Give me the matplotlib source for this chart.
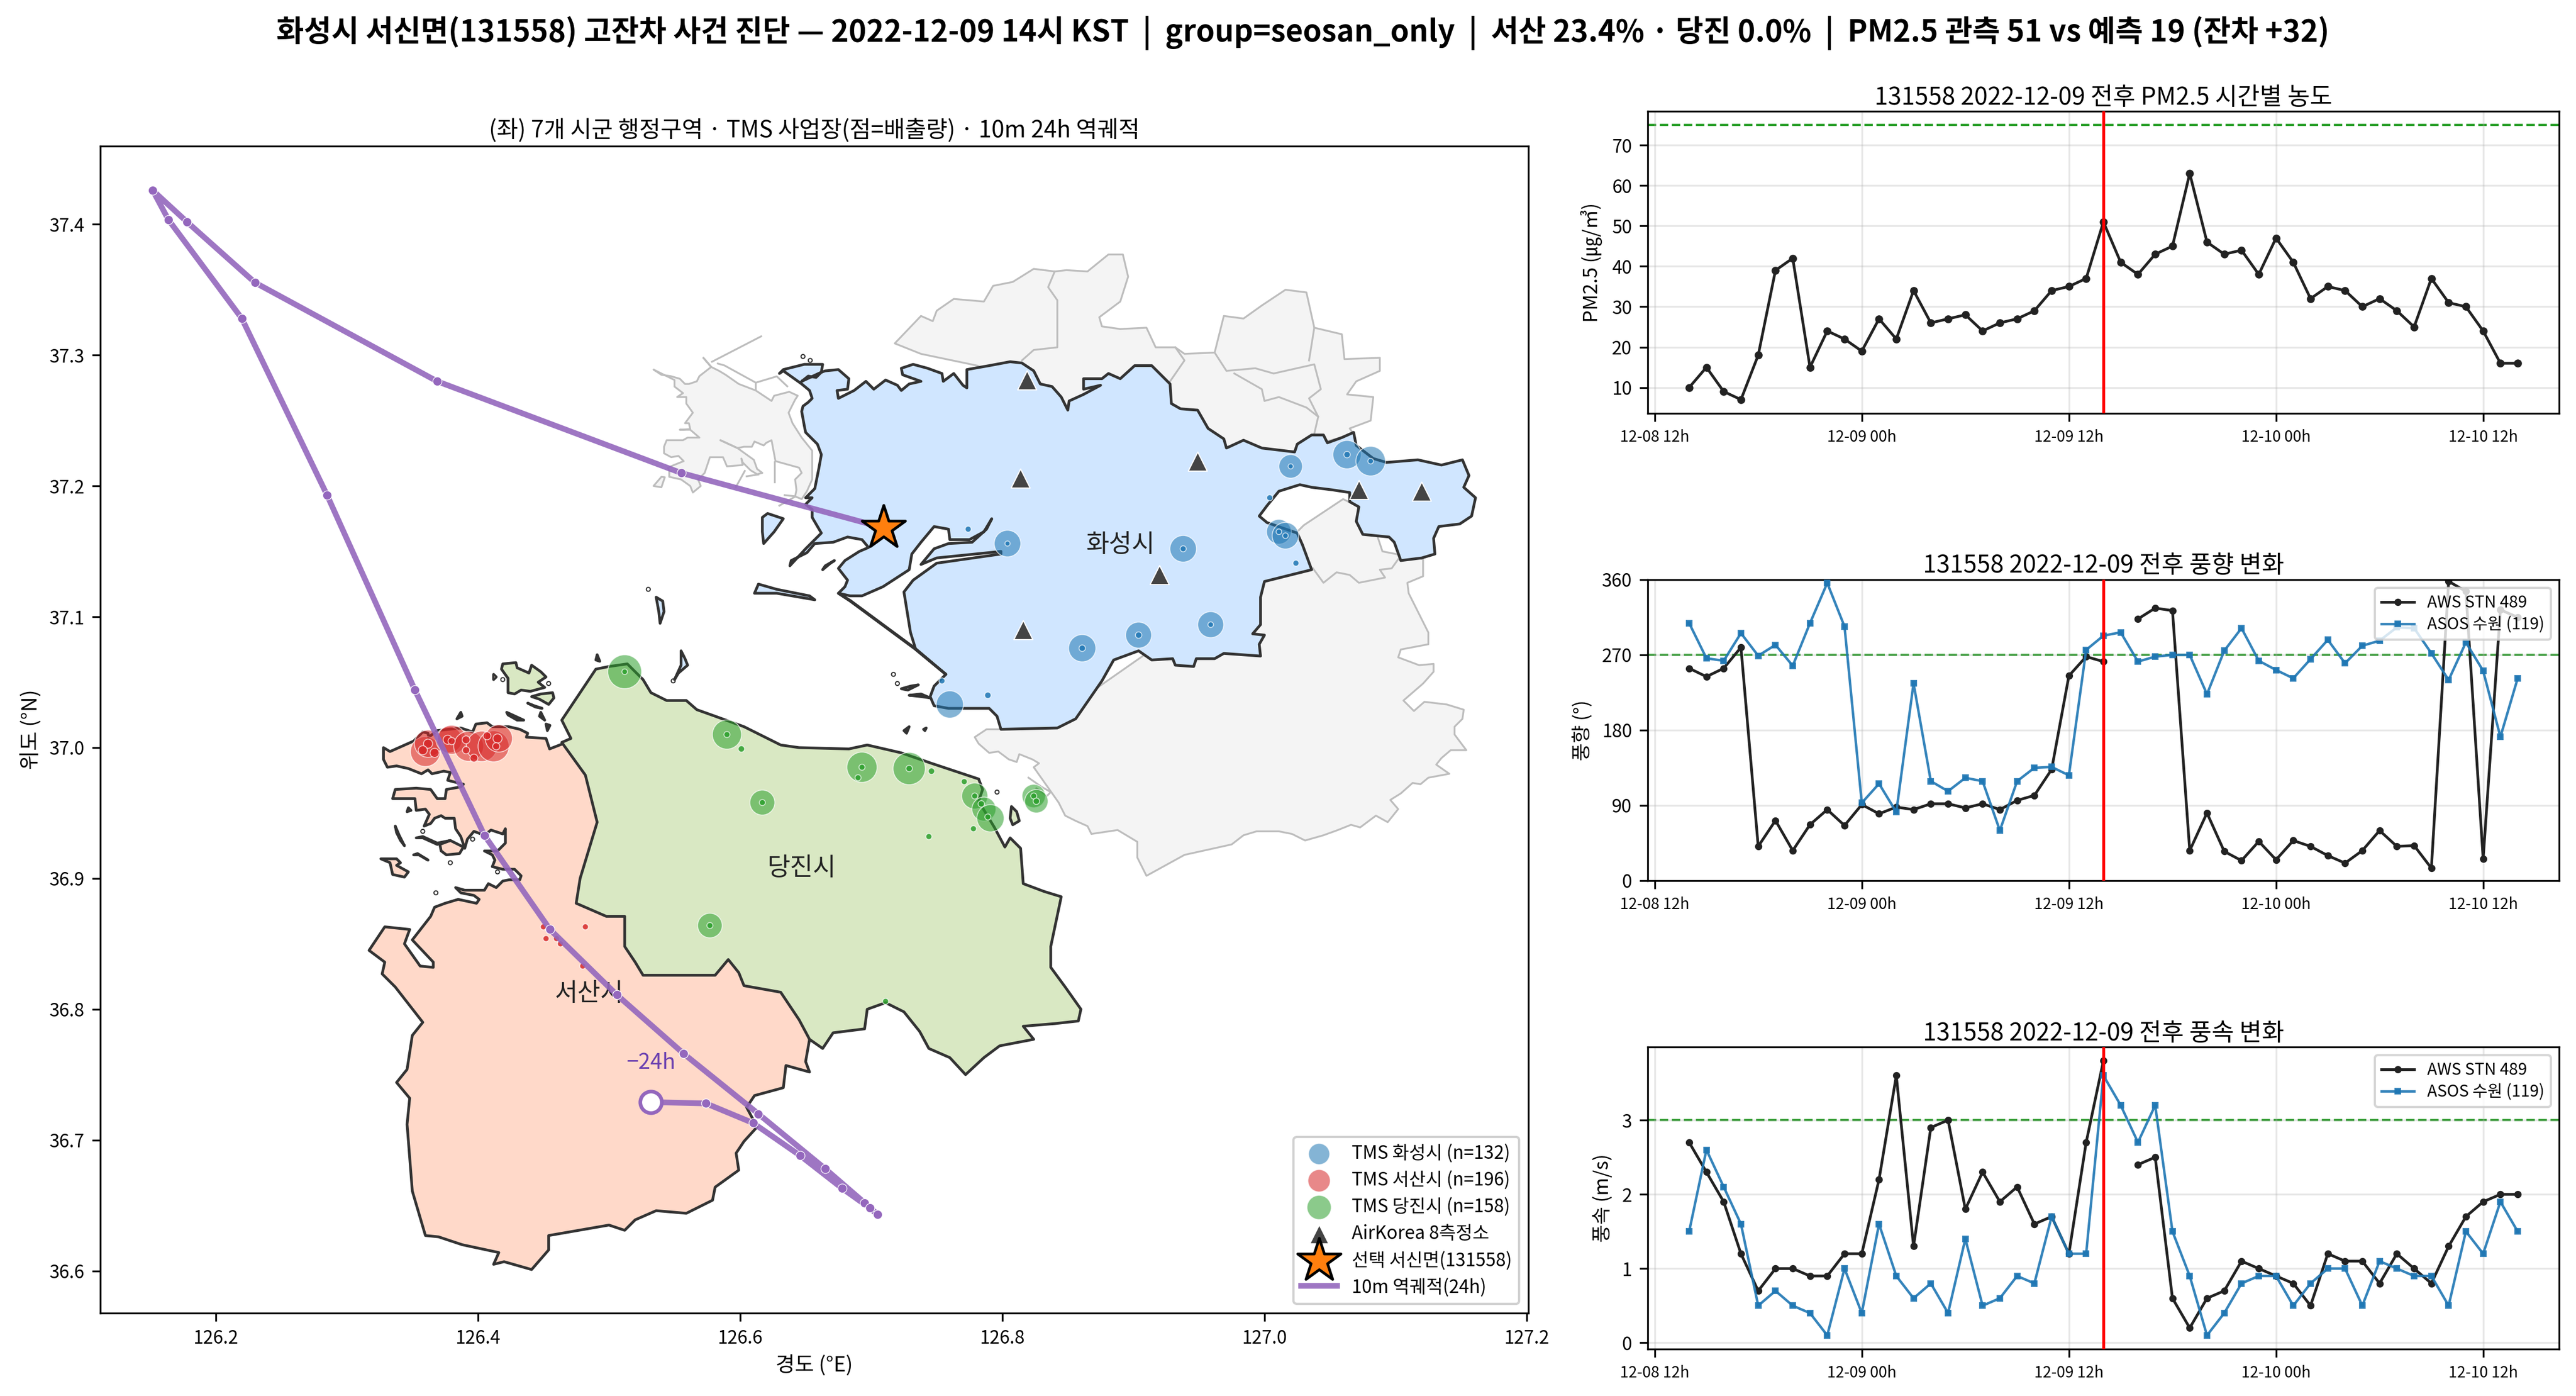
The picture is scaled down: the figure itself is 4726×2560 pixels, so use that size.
import numpy as np
import pandas as pd
import matplotlib

matplotlib.use("Agg")
import matplotlib.pyplot as plt
import matplotlib.dates as mdates
from matplotlib.colors import to_rgba

plt.rcParams["font.family"] = ["Noto Sans CJK KR", "DejaVu Sans"]
plt.rcParams["axes.unicode_minus"] = False

# Hourly series, 12-08 14h to 12-10 14h
START_TIME = "2022-12-08 14:00"
EVENT_TIME = "2022-12-09 14:00"
PM25 = [10, 15, 9, 7, 18, 39, 42, 15, 24, 22, 19, 27, 22, 34, 26, 27, 28, 24, 26, 27, 29, 34, 35, 37, 51,
        41, 38, 43, 45, 63, 46, 43, 44, 38, 47, 41, 32, 35, 34, 30, 32, 29, 25, 37, 31, 30, 24, 16, 16]
WD_AWS = [254, 244, 254, 279, 41, 72, 36, 67, 85, 66, 91, 80, 88, 85, 92, 92, 87, 92, 85, 96, 102, 133, 245, 268, 262,
          np.nan, 313, 326, 323, 36, 81, 35, 24, 47, 25, 48, 41, 30, 21, 36, 60, 41, 42, 15, 358, 346, 26, 324, 315]
WD_ASOS = [308, 266, 263, 296, 269, 282, 257, 308, 356, 304, 93, 116, 82, 236, 119, 107, 123, 119, 60, 119, 135, 136, 126, 276, 293,
           297, 262, 268, 270, 270, 223, 275, 302, 263, 252, 242, 265, 288, 260, 281, 287, 303, 302, 272, 240, 285, 251, 172, 242]
WS_AWS = [2.7, 2.3, 1.9, 1.2, 0.7, 1.0, 1.0, 0.9, 0.9, 1.2, 1.2, 2.2, 3.6, 1.3, 2.9, 3.0, 1.8, 2.3, 1.9, 2.1, 1.6, 1.7, 1.2, 2.7, 3.8,
          np.nan, 2.4, 2.5, 0.6, 0.2, 0.6, 0.7, 1.1, 1.0, 0.9, 0.8, 0.5, 1.2, 1.1, 1.1, 0.8, 1.2, 1.0, 0.8, 1.3, 1.7, 1.9, 2.0, 2.0]
WS_ASOS = [1.5, 2.6, 2.1, 1.6, 0.5, 0.7, 0.5, 0.4, 0.1, 1.0, 0.4, 1.6, 0.9, 0.6, 0.8, 0.4, 1.4, 0.5, 0.6, 0.9, 0.8, 1.7, 1.2, 1.2, 3.6,
           3.2, 2.7, 3.2, 1.5, 0.9, 0.1, 0.4, 0.8, 0.9, 0.9, 0.5, 0.8, 1.0, 1.0, 0.5, 1.1, 1.0, 0.9, 0.9, 0.5, 1.5, 1.2, 1.9, 1.5]

HWASEONG = [
    (126.647, 37.280), (126.652, 37.284), (126.658, 37.283), (126.662, 37.287), (126.663, 37.293), (126.649, 37.293),
    (126.633, 37.289), (126.630, 37.286), (126.633, 37.288), (126.647, 37.278), (126.653, 37.273), (126.655, 37.267),
    (126.652, 37.264), (126.648, 37.261), (126.647, 37.257), (126.649, 37.246), (126.650, 37.241), (126.659, 37.232),
    (126.662, 37.224), (126.660, 37.213), (126.657, 37.198), (126.650, 37.191), (126.655, 37.191), (126.650, 37.186),
    (126.655, 37.182), (126.655, 37.176), (126.662, 37.164), (126.650, 37.152), (126.638, 37.139), (126.639, 37.143),
    (126.651, 37.149), (126.657, 37.156), (126.671, 37.157), (126.682, 37.161), (126.693, 37.159), (126.698, 37.153),
    (126.691, 37.150), (126.680, 37.143), (126.675, 37.137), (126.682, 37.128), (126.680, 37.123), (126.675, 37.118),
    (126.684, 37.116), (126.693, 37.116), (126.709, 37.123), (126.729, 37.136), (126.731, 37.148), (126.738, 37.157),
    (126.748, 37.169), (126.759, 37.167), (126.760, 37.159), (126.775, 37.159), (126.786, 37.165), (126.792, 37.175),
    (126.788, 37.167), (126.777, 37.157), (126.759, 37.156), (126.748, 37.152), (126.738, 37.140), (126.750, 37.145),
    (126.799, 37.150), (126.799, 37.148), (126.750, 37.141), (126.732, 37.128), (126.725, 37.119), (126.730, 37.088),
    (126.734, 37.075), (126.757, 37.056), (126.748, 37.047), (126.745, 37.039), (126.748, 37.032), (126.759, 37.030),
    (126.790, 37.030), (126.796, 37.024), (126.799, 37.014), (126.842, 37.015), (126.856, 37.022), (126.876, 37.051),
    (126.885, 37.067), (126.904, 37.074), (126.914, 37.067), (126.930, 37.068), (126.932, 37.063), (126.946, 37.062),
    (126.948, 37.068), (126.962, 37.068), (126.969, 37.072), (126.997, 37.070), (126.996, 37.079), (127.000, 37.086),
    (126.991, 37.087), (126.997, 37.094), (126.997, 37.115), (127.000, 37.127), (127.020, 37.132), (127.036, 37.136),
    (127.029, 37.155), (127.025, 37.164), (127.002, 37.172), (126.996, 37.177), (127.002, 37.185), (127.011, 37.196),
    (127.027, 37.201), (127.036, 37.199), (127.052, 37.197), (127.065, 37.195), (127.065, 37.188), (127.072, 37.184),
    (127.070, 37.173), (127.075, 37.163), (127.095, 37.161), (127.099, 37.157), (127.104, 37.143), (127.120, 37.145),
    (127.130, 37.148), (127.129, 37.160), (127.133, 37.169), (127.149, 37.171), (127.158, 37.177), (127.161, 37.191),
    (127.152, 37.199), (127.156, 37.208), (127.151, 37.220), (127.135, 37.216), (127.117, 37.220), (127.093, 37.218),
    (127.083, 37.221), (127.070, 37.231), (127.068, 37.241), (127.059, 37.237), (127.048, 37.233), (127.045, 37.239),
    (127.036, 37.239), (127.025, 37.232), (127.023, 37.226), (126.998, 37.229), (126.984, 37.235), (126.971, 37.229),
    (126.969, 37.236), (126.957, 37.244), (126.949, 37.258), (126.936, 37.259), (126.929, 37.263), (126.928, 37.278),
    (126.921, 37.285), (126.914, 37.292), (126.901, 37.292), (126.890, 37.282), (126.881, 37.286), (126.876, 37.282),
    (126.862, 37.282), (126.862, 37.274), (126.875, 37.277), (126.862, 37.270), (126.851, 37.265), (126.850, 37.258),
    (126.845, 37.268), (126.838, 37.276), (126.829, 37.278), (126.824, 37.288), (126.815, 37.294), (126.806, 37.295),
    (126.790, 37.292), (126.773, 37.289), (126.773, 37.275), (126.770, 37.277), (126.763, 37.286), (126.755, 37.280),
    (126.754, 37.286), (126.743, 37.290), (126.732, 37.293), (126.723, 37.290), (126.724, 37.285), (126.738, 37.280),
    (126.729, 37.278), (126.723, 37.273), (126.720, 37.277), (126.711, 37.281), (126.702, 37.274), (126.696, 37.280),
    (126.687, 37.273), (126.675, 37.267), (126.674, 37.273), (126.682, 37.274), (126.683, 37.282), (126.675, 37.289),
    (126.665, 37.288), (126.662, 37.287),
]
HWASEONG_ISLANDS = [
    [(126.675, 37.118), (126.684, 37.112), (126.734, 37.075), (126.757, 37.056), (126.734, 37.0755), (126.684, 37.1125)],
    [(126.617, 37.176), (126.621, 37.179), (126.633, 37.175), (126.626, 37.165), (126.618, 37.156), (126.617, 37.165)],
    [(126.611, 37.118), (126.614, 37.125), (126.628, 37.121), (126.653, 37.116), (126.657, 37.113), (126.628, 37.118)],
    [(126.536, 37.115), (126.541, 37.112), (126.542, 37.104), (126.539, 37.095), (126.538, 37.104)],
    [(126.555, 37.074), (126.558, 37.068), (126.560, 37.063), (126.553, 37.057), (126.550, 37.052), (126.555, 37.063)],
    [(126.729, 37.040), (126.738, 37.041), (126.745, 37.038), (126.738, 37.039)],
    [(126.672, 37.143), (126.665, 37.139), (126.663, 37.136), (126.669, 37.141)],
    [(126.723, 37.045), (126.730, 37.047), (126.736, 37.048), (126.728, 37.044)],
    [(126.725, 37.013), (126.729, 37.016), (126.727, 37.011)],
    [(126.740, 37.014), (126.742, 37.015), (126.741, 37.013)],
]
SEOSAN = [
    (126.328, 37.000), (126.333, 36.997), (126.351, 37.005), (126.358, 37.012), (126.362, 37.011), (126.3625, 37.008),
    (126.369, 37.013), (126.387, 37.015), (126.396, 37.012), (126.3985, 37.018), (126.407, 37.019), (126.411, 37.016),
    (126.4235, 37.016), (126.432, 37.014), (126.438, 37.011), (126.437, 37.008), (126.452, 37.007), (126.4547, 36.999),
    (126.465, 37.003), (126.52, 36.93), (126.60, 36.85), (126.64, 36.81), (126.653, 36.777), (126.650, 36.760),
    (126.653, 36.752), (126.635, 36.757), (126.633, 36.740), (126.611, 36.734), (126.605, 36.725), (126.613, 36.710),
    (126.603, 36.699), (126.597, 36.690), (126.599, 36.677), (126.581, 36.664), (126.579, 36.654), (126.559, 36.644),
    (126.536, 36.646), (126.520, 36.639), (126.512, 36.631), (126.500, 36.635), (126.454, 36.627), (126.454, 36.616),
    (126.441, 36.601), (126.420, 36.607), (126.412, 36.605), (126.416, 36.614), (126.388, 36.620), (126.370, 36.626),
    (126.360, 36.627), (126.350, 36.661), (126.346, 36.712), (126.348, 36.732), (126.338, 36.744), (126.346, 36.754),
    (126.350, 36.780), (126.358, 36.790), (126.337, 36.817), (126.327, 36.827), (126.329, 36.836), (126.317, 36.845),
    (126.329, 36.863), (126.348, 36.861), (126.344, 36.850), (126.356, 36.833), (126.366, 36.832), (126.366, 36.836),
    (126.350, 36.853), (126.364, 36.871), (126.367, 36.878), (126.375, 36.881), (126.385, 36.884), (126.399, 36.881),
    (126.401, 36.884), (126.397, 36.887), (126.387, 36.889), (126.383, 36.893), (126.390, 36.891), (126.405, 36.891),
    (126.408, 36.896), (126.414, 36.893), (126.419, 36.898), (126.424, 36.899), (126.432, 36.899), (126.433, 36.902),
    (126.428, 36.907), (126.419, 36.907), (126.411, 36.909), (126.413, 36.914), (126.411, 36.918), (126.405, 36.921),
    (126.415, 36.921), (126.421, 36.927), (126.421, 36.938), (126.419, 36.934), (126.410, 36.937), (126.405, 36.933),
    (126.397, 36.936), (126.392, 36.930), (126.390, 36.923), (126.387, 36.932), (126.383, 36.938), (126.382, 36.946),
    (126.375, 36.946), (126.372, 36.948), (126.367, 36.946), (126.364, 36.942), (126.359, 36.940), (126.363, 36.949),
    (126.360, 36.953), (126.353, 36.952), (126.352, 36.961), (126.335, 36.961), (126.337, 36.968), (126.353, 36.969),
    (126.364, 36.968), (126.369, 36.961), (126.375, 36.961), (126.376, 36.968), (126.387, 36.970), (126.389, 36.972),
    (126.377, 36.975), (126.379, 36.981), (126.374, 36.982), (126.365, 36.980), (126.362, 36.983), (126.357, 36.980),
    (126.347, 36.984), (126.338, 36.986), (126.331, 36.985), (126.328, 36.991),
]
SEOSAN_ISLANDS = [
    [(126.371, 36.926), (126.379, 36.929), (126.389, 36.924), (126.386, 36.919), (126.376, 36.918), (126.372, 36.921)],
    [(126.326, 36.915), (126.338, 36.915), (126.341, 36.912), (126.338, 36.910), (126.347, 36.905), (126.344, 36.901),
     (126.335, 36.903), (126.333, 36.912)],
    [(126.337, 36.940), (126.340, 36.933), (126.344, 36.925), (126.341, 36.929), (126.338, 36.935)],
    [(126.353, 36.931), (126.358, 36.932), (126.369, 36.927), (126.379, 36.929), (126.369, 36.926), (126.358, 36.931)],
    [(126.351, 36.918), (126.354, 36.919), (126.362, 36.914), (126.355, 36.918)],
    [(126.347, 36.954), (126.349, 36.952), (126.346, 36.951)],
    [(126.387, 37.027), (126.384, 37.022), (126.388, 37.024)],
    [(126.412, 37.056), (126.412, 37.052), (126.414, 37.054)],
    [(126.422, 37.027), (126.435, 37.021), (126.430, 37.021), (126.423, 37.025)],
    [(126.448, 37.027), (126.451, 37.021), (126.447, 37.024)],
    [(126.452, 37.018), (126.455, 37.017), (126.453, 37.013)],
    [(126.438, 37.034), (126.443, 37.032), (126.449, 37.030), (126.444, 37.031)],
    [(126.491, 37.071), (126.493, 37.066), (126.490, 37.067)],
]
DANGJIN = [
    (126.464, 37.021), (126.470, 37.030), (126.490, 37.060), (126.500, 37.062), (126.514, 37.064), (126.526, 37.052),
    (126.532, 37.042), (126.544, 37.036), (126.559, 37.036), (126.567, 37.029), (126.581, 37.024), (126.603, 37.016),
    (126.631, 37.002), (126.645, 37.000), (126.683, 36.999), (126.697, 37.002), (126.723, 36.996), (126.746, 36.988),
    (126.782, 36.976), (126.785, 36.968), (126.782, 36.959), (126.794, 36.939), (126.802, 36.924), (126.806, 36.931),
    (126.814, 36.923), (126.816, 36.896), (126.832, 36.890), (126.845, 36.886), (126.837, 36.848), (126.837, 36.832),
    (126.848, 36.817), (126.860, 36.800), (126.858, 36.791), (126.840, 36.789), (126.816, 36.787), (126.824, 36.777),
    (126.798, 36.772), (126.786, 36.763), (126.772, 36.750), (126.760, 36.763), (126.744, 36.770), (126.737, 36.783),
    (126.725, 36.798), (126.711, 36.805), (126.697, 36.800), (126.695, 36.785), (126.671, 36.782), (126.663, 36.770),
    (126.653, 36.777), (126.645, 36.792), (126.631, 36.813), (126.603, 36.818), (126.599, 36.828), (126.591, 36.838),
    (126.581, 36.826), (126.559, 36.826), (126.526, 36.826), (126.520, 36.836), (126.512, 36.848), (126.512, 36.871),
    (126.498, 36.871), (126.475, 36.881), (126.478, 36.900), (126.491, 36.943), (126.482, 36.979), (126.464, 37.004),
    (126.471, 37.007),
]
DANGJIN_ISLANDS = [
    [(126.419, 37.064), (126.429, 37.065), (126.430, 37.061), (126.439, 37.057), (126.441, 37.063), (126.448, 37.058),
     (126.452, 37.054), (126.446, 37.050), (126.451, 37.046), (126.440, 37.043), (126.433, 37.044), (126.428, 37.041),
     (126.423, 37.042), (126.423, 37.053), (126.418, 37.060)],
    [(126.441, 37.039), (126.448, 37.041), (126.457, 37.042), (126.458, 37.038), (126.454, 37.033), (126.447, 37.037)],
    [(126.807, 36.955), (126.811, 36.951), (126.813, 36.944), (126.808, 36.941), (126.806, 36.946)],
]
GRAY_NORTH = [
    (126.718, 37.309), (126.738, 37.330), (126.747, 37.326), (126.750, 37.334), (126.763, 37.343), (126.786, 37.341),
    (126.793, 37.353), (126.808, 37.356), (126.824, 37.366), (126.840, 37.364), (126.849, 37.365), (126.865, 37.364),
    (126.881, 37.377), (126.892, 37.377), (126.896, 37.360), (126.890, 37.341), (126.874, 37.329), (126.876, 37.322),
    (126.890, 37.320), (126.910, 37.321), (126.917, 37.306), (126.932, 37.306), (126.939, 37.301), (126.962, 37.302),
    (126.969, 37.330), (126.984, 37.328), (126.998, 37.338), (127.016, 37.350), (127.032, 37.348), (127.038, 37.321),
    (127.059, 37.316), (127.061, 37.297), (127.088, 37.298), (127.088, 37.288), (127.070, 37.280), (127.063, 37.270),
    (127.083, 37.268), (127.081, 37.250), (127.065, 37.244), (127.068, 37.240), (127.0, 37.22), (126.85, 37.24),
    (126.80, 37.28), (126.781, 37.292), (126.738, 37.301),
]
GRAY_SOUTH = [
    (127.121, 37.144), (127.121, 37.131), (127.109, 37.126), (127.110, 37.118), (127.125, 37.088), (127.125, 37.079),
    (127.104, 37.075), (127.102, 37.069), (127.118, 37.063), (127.129, 37.064), (127.129, 37.058), (127.121, 37.049),
    (127.106, 37.036), (127.114, 37.028), (127.122, 37.035), (127.139, 37.033), (127.152, 37.029), (127.151, 37.022),
    (127.145, 37.016), (127.145, 37.010), (127.154, 36.998), (127.142, 36.998), (127.135, 36.992), (127.131, 36.987),
    (127.141, 36.980), (127.125, 36.977), (127.119, 36.972), (127.113, 36.973), (127.104, 36.965), (127.096, 36.960),
    (127.102, 36.953), (127.094, 36.943), (127.085, 36.948), (127.073, 36.939), (127.066, 36.941), (127.056, 36.937),
    (127.045, 36.933), (127.031, 36.929), (127.021, 36.934), (127.011, 36.936), (126.994, 36.936), (126.984, 36.933),
    (126.975, 36.926), (126.939, 36.918), (126.910, 36.902), (126.903, 36.916), (126.903, 36.928), (126.888, 36.937),
    (126.868, 36.934), (126.865, 36.940), (126.856, 36.944), (126.848, 36.948), (126.843, 36.958), (126.824, 36.985),
    (126.828, 36.988), (126.823, 36.991), (126.813, 36.995), (126.811, 36.989), (126.805, 36.991), (126.797, 36.997),
    (126.790, 36.996), (126.782, 37.003), (126.779, 37.008), (126.788, 37.014), (126.797, 37.014), (126.85, 37.03),
    (126.95, 37.10), (127.01, 37.15), (127.03, 37.17), (127.06, 37.19), (127.08, 37.18), (127.09, 37.15),
]
GRAY_WEST = [
    (126.534, 37.289), (126.540, 37.285), (126.547, 37.284), (126.554, 37.282), (126.558, 37.278), (126.561, 37.278),
    (126.567, 37.280), (126.569, 37.284), (126.578, 37.291), (126.572, 37.298), (126.578, 37.291), (126.584, 37.288),
    (126.589, 37.285), (126.599, 37.278), (126.612, 37.273), (126.624, 37.265), (126.626, 37.269), (126.6375, 37.272),
    (126.644, 37.269), (126.642, 37.266), (126.637, 37.256), (126.640, 37.248), (126.647, 37.237), (126.655, 37.227),
    (126.655, 37.205), (126.651, 37.196), (126.647, 37.190), (126.642, 37.192), (126.643, 37.197), (126.642, 37.205),
    (126.647, 37.210), (126.645, 37.214), (126.627, 37.219), (126.624, 37.235), (126.620, 37.233), (126.618, 37.231),
    (126.611, 37.234), (126.609, 37.230), (126.603, 37.230), (126.598, 37.229), (126.585, 37.235), (126.598, 37.229),
    (126.6105, 37.220), (126.613, 37.213), (126.617, 37.210), (126.613, 37.209), (126.608, 37.212), (126.602, 37.218),
    (126.601, 37.221), (126.602, 37.216), (126.590, 37.215), (126.587, 37.222), (126.577, 37.222), (126.573, 37.210),
    (126.568, 37.205), (126.570, 37.200), (126.564, 37.195), (126.562, 37.200), (126.555, 37.205), (126.546, 37.207),
    (126.546, 37.211), (126.545, 37.214), (126.5495, 37.216), (126.557, 37.219), (126.553, 37.223), (126.5475, 37.222),
    (126.542, 37.225), (126.542, 37.230), (126.544, 37.235), (126.5565, 37.235), (126.560, 37.237), (126.569, 37.237),
    (126.562, 37.243), (126.554, 37.243), (126.562, 37.2435), (126.561, 37.248), (126.558, 37.248), (126.564, 37.256),
    (126.559, 37.263), (126.559, 37.268), (126.552, 37.268), (126.5565, 37.271), (126.550, 37.276), (126.550, 37.281),
]
GRAY_WEST_ISLAND = [(126.534, 37.200), (126.540, 37.207), (126.5426, 37.2067), (126.540, 37.199)]
GRAY_LINES = [
    [(126.840, 37.364), (126.835, 37.352), (126.842, 37.342), (126.842, 37.306), (126.824, 37.304), (126.815, 37.296)],
    [(126.932, 37.306), (126.939, 37.296), (126.928, 37.280)],
    [(126.962, 37.302), (126.971, 37.288), (126.993, 37.290), (127.007, 37.286), (127.038, 37.293), (127.043, 37.274),
     (127.034, 37.267), (127.041, 37.253), (127.038, 37.240)],
    [(127.038, 37.321), (127.034, 37.296)],
    [(126.977, 37.286), (126.998, 37.274), (127.000, 37.265), (127.011, 37.268), (127.032, 37.260), (127.041, 37.253)],
    [(127.037, 37.137), (127.045, 37.126), (127.055, 37.134), (127.065, 37.132), (127.072, 37.126), (127.092, 37.130),
     (127.088, 37.136), (127.097, 37.137), (127.102, 37.144)],
    [(126.583, 37.2936), (126.588, 37.2922), (126.612, 37.279), (126.612, 37.2734)],
    [(126.612, 37.279), (126.628, 37.2838), (126.636, 37.2762)],
    [(126.6265, 37.2185), (126.6265, 37.2032)],
    [(126.6036, 37.2115), (126.5967, 37.199)],
    [(126.605, 37.2074), (126.614, 37.2088)],
    [(126.630, 37.185), (126.6424, 37.1921), (126.634, 37.193)],
    [(126.5786, 37.295), (126.6161, 37.3144)],
    [(126.820, 36.977), (126.830, 36.970), (126.837, 36.966), (126.834, 36.963), (126.826, 36.969)],
]
# Tiny islets, hollow rings on the map
ISLET_LON = [126.648, 126.6535, 126.530, 126.717, 126.720, 126.549, 126.358, 126.396, 126.379, 126.415, 126.368,
             126.419, 126.454, 126.796]
ISLET_LAT = [37.299, 37.296, 37.121, 37.056, 37.049, 37.051, 36.936, 36.930, 36.912, 36.905, 36.889,
             37.052, 37.049, 36.966]

# TMS sites: lon, lat, size
TMS_HWASEONG_LON = [127.020, 127.063, 127.081, 127.011, 127.016, 126.804, 126.938, 126.959, 126.904, 126.861, 126.760,
                    127.020, 127.063, 127.081, 127.011, 127.016, 126.804, 126.938, 126.959, 126.904, 126.861,
                    126.754, 126.789, 126.774, 127.004, 127.024]
TMS_HWASEONG_LAT = [37.215, 37.224, 37.219, 37.165, 37.162, 37.156, 37.152, 37.094, 37.086, 37.076, 37.033,
                    37.215, 37.224, 37.219, 37.165, 37.162, 37.156, 37.152, 37.094, 37.086, 37.076,
                    37.051, 37.040, 37.167, 37.191, 37.141]
TMS_HWASEONG_S = [108, 156, 169, 119, 137, 137, 137, 131, 131, 144, 144,
                  5, 8, 6, 6, 6, 5, 7, 6, 8, 8, 7, 8, 7, 7, 7]
TMS_SEOSAN_LON = [126.360, 126.362, 126.378, 126.380, 126.393, 126.403, 126.412, 126.416,
                  126.362, 126.358, 126.367, 126.377, 126.380, 126.391, 126.391, 126.397, 126.407, 126.415, 126.414,
                  126.450, 126.482, 126.452, 126.460, 126.463, 126.480]
TMS_SEOSAN_LAT = [36.997, 37.003, 37.006, 37.006, 37.001, 37.001, 37.001, 37.007,
                  37.003, 36.998, 36.996, 37.006, 37.005, 37.006, 36.998, 36.992, 37.009, 37.007, 37.001,
                  36.863, 36.863, 36.854, 36.854, 36.850, 36.833]
TMS_SEOSAN_S = [174, 144, 133, 162, 174, 180, 187, 144,
                16, 16, 16, 16, 10, 12, 10, 12, 12, 16, 10,
                7, 7, 7, 7, 7, 7]
TMS_DANGJIN_LON = [126.512, 126.590, 126.693, 126.729, 126.617, 126.577, 126.779, 126.786, 126.791, 126.824, 126.826,
                   126.512, 126.590, 126.693, 126.729, 126.617, 126.577, 126.779, 126.824, 126.826,
                   126.601, 126.690, 126.746, 126.771, 126.784, 126.789, 126.778, 126.744, 126.711]
TMS_DANGJIN_LAT = [37.058, 37.010, 36.985, 36.984, 36.958, 36.864, 36.963, 36.953, 36.946, 36.963, 36.959,
                   37.058, 37.010, 36.985, 36.984, 36.958, 36.864, 36.963, 36.963, 36.959,
                   36.999, 36.977, 36.982, 36.974, 36.957, 36.947, 36.938, 36.932, 36.806]
TMS_DANGJIN_S = [222, 165, 177, 202, 121, 117, 132, 112, 144, 106, 106,
                 6, 7, 7, 8, 7, 7, 7, 7, 8,
                 8, 7, 8, 7, 8, 7, 7, 7, 7]
AIRKOREA_LON = [126.819, 126.814, 126.949, 126.920, 126.816, 127.072, 127.120]
AIRKOREA_LAT = [37.281, 37.206, 37.219, 37.132, 37.090, 37.197, 37.196]
STAR_LON = 126.7096
STAR_LAT = 37.168

# Back trajectory, from the receptor (t=0) to -24h
TRAJ_LON = [126.7096, 126.555, 126.369, 126.230, 126.178, 126.152, 126.164, 126.220, 126.285, 126.352, 126.405, 126.455,
            126.506, 126.557, 126.614, 126.665, 126.695, 126.705, 126.699, 126.678, 126.646, 126.610, 126.574, 126.532]
TRAJ_LAT = [37.168, 37.210, 37.280, 37.3555, 37.402, 37.426, 37.4035, 37.328, 37.193, 37.044, 36.933, 36.861,
            36.811, 36.766, 36.720, 36.678, 36.652, 36.643, 36.648, 36.663, 36.688, 36.713, 36.728, 36.729]

TITLE = ("화성시 서신면(131558) 고잔차 사건 진단 — 2022-12-09 14시 KST  |  group=seosan_only  |  "
         "서산 23.4% · 당진 0.0%  |  PM2.5 관측 51 vs 예측 19 (잔차 +32)")

W, H = 4726, 2560
C_EDGE = "#333333"
C_GRAY = "#bdbdbd"
C_PURPLE = "#9467bd"


def axes_px(fig, left, right, top, bottom):
    return fig.add_axes([left / W, 1 - bottom / H, (right - left) / W, (bottom - top) / H])


def fill_poly(ax, pts, face, edge, lw, z):
    lon, lat = zip(*pts)
    ax.fill(lon, lat, facecolor=face, edgecolor=edge, linewidth=lw, zorder=z, joinstyle="round")


def site_scatter(ax, lon, lat, sizes, color, label):
    # small single sites read stronger than the big translucent discs
    colors = [to_rgba(color, 0.55 if s > 30 else 0.85) for s in sizes]
    return ax.scatter(lon, lat, s=sizes, c=colors, edgecolors=to_rgba("white", 0.7), linewidths=0.4,
                      zorder=3, label=label)


def draw_map(ax):
    for pts in [GRAY_NORTH, GRAY_SOUTH, GRAY_WEST, GRAY_WEST_ISLAND]:
        fill_poly(ax, pts, "#f4f4f4", C_GRAY, 0.8, 1)
    for pts in GRAY_LINES:
        lon, lat = zip(*pts)
        ax.plot(lon, lat, color=C_GRAY, lw=0.8, zorder=1.1)

    for pts in [SEOSAN] + SEOSAN_ISLANDS:
        fill_poly(ax, pts, "#ffd9c9", C_EDGE, 1.2, 2)
    for pts in [DANGJIN] + DANGJIN_ISLANDS:
        fill_poly(ax, pts, "#d9e8c3", C_EDGE, 1.2, 2.1)
    for pts in [HWASEONG] + HWASEONG_ISLANDS:
        fill_poly(ax, pts, "#d0e6ff", C_EDGE, 1.2, 2.2)
    ax.scatter(ISLET_LON, ISLET_LAT, s=3, facecolors="none", edgecolors=C_EDGE, linewidths=0.5, zorder=2.3)

    ax.text(126.89, 37.155, "화성시", fontsize=11, color="#222222", ha="center", va="center", zorder=2.5)
    ax.text(126.647, 36.908, "당진시", fontsize=11, color="#222222", ha="center", va="center", zorder=2.5)
    ax.text(126.485, 36.812, "서산시", fontsize=11, color="#222222", ha="center", va="center", zorder=2.5)

    sc_h = site_scatter(ax, TMS_HWASEONG_LON, TMS_HWASEONG_LAT, TMS_HWASEONG_S, "#1f77b4", "TMS 화성시 (n=132)")
    sc_s = site_scatter(ax, TMS_SEOSAN_LON, TMS_SEOSAN_LAT, TMS_SEOSAN_S, "#d62728", "TMS 서산시 (n=196)")
    sc_d = site_scatter(ax, TMS_DANGJIN_LON, TMS_DANGJIN_LAT, TMS_DANGJIN_S, "#2ca02c", "TMS 당진시 (n=158)")
    air = ax.scatter(AIRKOREA_LON, AIRKOREA_LAT, s=70, marker="^", c="#444444", edgecolors="white",
                     linewidths=0.5, zorder=4, label="AirKorea 8측정소")

    traj, = ax.plot(TRAJ_LON, TRAJ_LAT, color=C_PURPLE, lw=2.5, alpha=0.9, zorder=5, label="10m 역궤적(24h)")
    ax.scatter(TRAJ_LON[1:-1], TRAJ_LAT[1:-1], s=16, c=C_PURPLE, edgecolors="white", linewidths=0.3, zorder=5.1)
    ax.scatter(TRAJ_LON[-1], TRAJ_LAT[-1], s=90, c="white", edgecolors=C_PURPLE, linewidths=1.6, zorder=5.2)
    ax.text(126.532, 36.759, "−24h", fontsize=9.5, color="#6a3fb0", ha="center", va="center", zorder=5.2)

    star = ax.scatter(STAR_LON, STAR_LAT, s=400, marker="*", c="#ff7f0e", edgecolors="black", linewidths=1.2,
                      zorder=6, label="선택 서신면(131558)")

    ax.set_xlim(126.112, 127.2013)
    ax.set_ylim(36.5677, 37.4598)
    ax.set_xticks([126.2, 126.4, 126.6, 126.8, 127.0, 127.2])
    ax.set_yticks([36.6, 36.7, 36.8, 36.9, 37.0, 37.1, 37.2, 37.3, 37.4])
    ax.tick_params(labelsize=8)
    ax.set_xlabel("경도 (°E)", fontsize=9.2, labelpad=3)
    ax.set_ylabel("위도 (°N)", fontsize=9.2, labelpad=3)
    ax.set_title("(좌) 7개 시군 행정구역 · TMS 사업장(점=배출량) · 10m 24h 역궤적", fontsize=10.2, pad=4)
    ax.legend(handles=[sc_h, sc_s, sc_d, air, star, traj], loc="lower right", fontsize=8, framealpha=0.9,
              labelspacing=0.42)


def style_time_axis(ax, times, threshold, title, ylabel):
    ax.axhline(threshold, color="#2ca02c", ls="--", lw=1.0, zorder=1.5)
    ax.axvline(pd.Timestamp(EVENT_TIME), color="red", lw=1.3, zorder=4)
    ax.xaxis.set_major_locator(mdates.HourLocator(byhour=[0, 12]))
    ax.xaxis.set_major_formatter(mdates.DateFormatter("%m-%d %Hh"))
    ax.tick_params(axis="x", labelsize=6.8)
    ax.tick_params(axis="y", labelsize=8)
    ax.grid(True, alpha=0.3)
    ax.set_title(title, fontsize=10.7, pad=3)
    ax.set_ylabel(ylabel, fontsize=8.6, labelpad=4)


def draw_two_lines(ax, times, aws, asos):
    ax.plot(times, aws, color="#222222", lw=1.2, marker="o", ms=2.2, zorder=2, label="AWS STN 489")
    ax.plot(times, asos, color="#1f77b4", lw=1.1, marker="s", ms=1.8, alpha=0.9, zorder=3, label="ASOS 수원 (119)")
    ax.legend(loc="upper right", fontsize=7.2, framealpha=0.8, labelspacing=0.3)


def main():
    times = pd.date_range(START_TIME, periods=len(PM25), freq="h")
    fig = plt.figure(figsize=(W / 300, H / 300), dpi=300)

    fig.text(2390 / W, 1 - 60 / H, TITLE, fontsize=13.2, fontweight="bold", ha="center", va="center")

    ax_map = axes_px(fig, 184, 2804, 268, 2408)
    draw_map(ax_map)

    ax_pm = axes_px(fig, 3023, 4695, 204, 758)
    ax_pm.plot(times, PM25, color="#222222", lw=1.2, marker="o", ms=2.5, zorder=2)
    style_time_axis(ax_pm, times, 75, "131558 2022-12-09 전후 PM2.5 시간별 농도", "PM2.5 (㎍/㎥)")

    ax_wd = axes_px(fig, 3023, 4695, 1063, 1615)
    draw_two_lines(ax_wd, times, WD_AWS, WD_ASOS)
    style_time_axis(ax_wd, times, 270, "131558 2022-12-09 전후 풍향 변화", "풍향 (°)")
    ax_wd.set_ylim(0, 360)
    ax_wd.set_yticks([0, 90, 180, 270, 360])

    ax_ws = axes_px(fig, 3023, 4695, 1920, 2474)
    draw_two_lines(ax_ws, times, WS_AWS, WS_ASOS)
    style_time_axis(ax_ws, times, 3, "131558 2022-12-09 전후 풍속 변화", "풍속 (m/s)")
    ax_ws.set_yticks([0, 1, 2, 3])

    fig.savefig("out.png", dpi=300)


main()
